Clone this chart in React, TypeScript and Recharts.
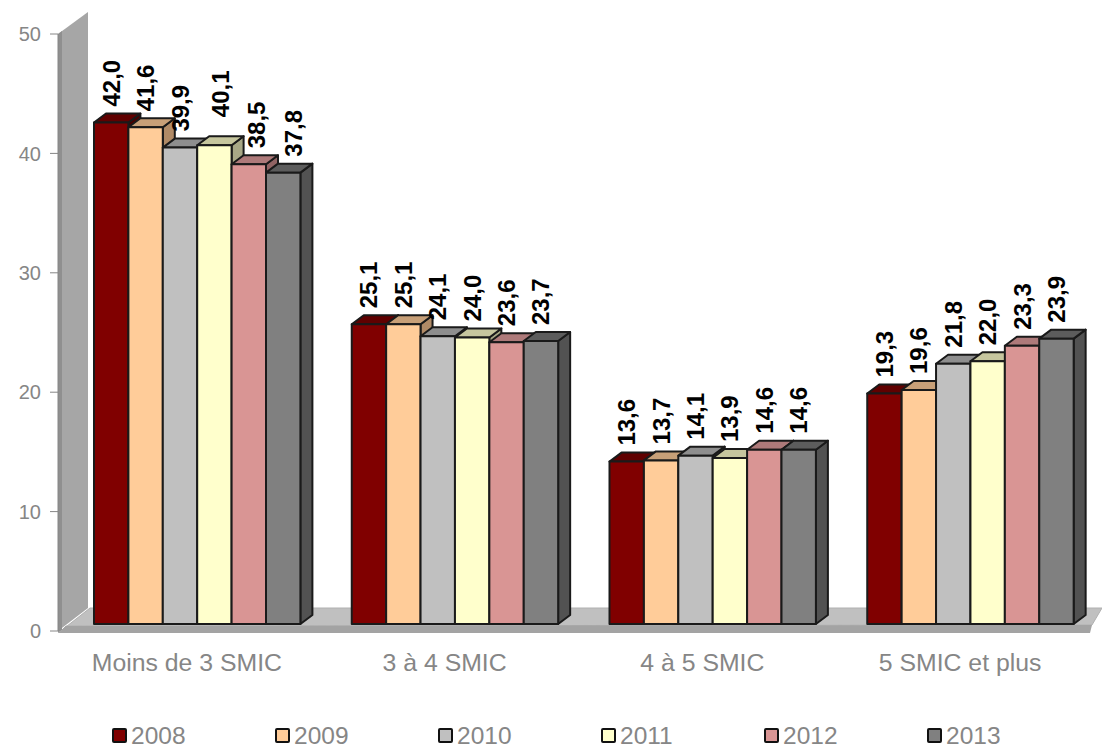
import React from 'react';
import { BarChart, Bar, XAxis, YAxis, Legend, LabelList } from 'recharts';

const CATEGORIES = ['Moins de 3 SMIC', '3 à 4 SMIC', '4 à 5 SMIC', '5 SMIC et plus'];
const YEARS = ['2008', '2009', '2010', '2011', '2012', '2013'];
const VALUES_2008 = [42.0, 25.1, 13.6, 19.3];
const VALUES_2009 = [41.6, 25.1, 13.7, 19.6];
const VALUES_2010 = [39.9, 24.1, 14.1, 21.8];
const VALUES_2011 = [40.1, 24.0, 13.9, 22.0];
const VALUES_2012 = [38.5, 23.6, 14.6, 23.3];
const VALUES_2013 = [37.8, 23.7, 14.6, 23.9];
const SERIES = [VALUES_2008, VALUES_2009, VALUES_2010, VALUES_2011, VALUES_2012, VALUES_2013];

const FRONT = ['#800000', '#ffcc99', '#c0c0c0', '#ffffcc', '#d99594', '#808080'];
const TOP = ['#600000', '#c8a078', '#8e8e8e', '#c6c69e', '#ae7a7a', '#5c5c5c'];
const SIDE = ['#4a0000', '#b08a66', '#7a7a7a', '#a8a886', '#916464', '#525252'];

// hand-placed labels of the first group, one entry per year
const FIRST_GROUP_NUDGE = [0, 0, 0, 6, 8, 10];
const FIRST_GROUP_LIFT = [16, 16, 16, 28, 16, 16];

const rows = CATEGORIES.map((name, i) => {
  const row: Record<string, string | number> = { name };
  YEARS.forEach((y, s) => { row[y] = SERIES[s][i]; });
  return row;
});

// bars stand in the middle of the floor, so they sit off the axis plane
const SHIFT_X = 10;
const SHIFT_Y = -7;
const DEPTH_X = 12;
const DEPTH_Y = 9;
const EDGE = '#1a1a1a';
const FONT = 'Liberation Sans, Arial, sans-serif';
const TEXT_GREY = '#868686';

const box3d = (s: number) => (props: any) => {
  const { x, y, width, height } = props;
  const l = x + SHIFT_X;
  const r = l + width;
  const t = y + SHIFT_Y;
  const b = t + height;
  return (
    <g stroke={EDGE} strokeWidth={2} strokeLinejoin="round">
      <polygon points={`${r},${t} ${r + DEPTH_X},${t - DEPTH_Y} ${r + DEPTH_X},${b - DEPTH_Y} ${r},${b}`} fill={SIDE[s]} />
      <polygon points={`${l},${t} ${l + DEPTH_X},${t - DEPTH_Y} ${r + DEPTH_X},${t - DEPTH_Y} ${r},${t}`} fill={TOP[s]} />
      <rect x={l} y={t} width={width} height={height} fill={FRONT[s]} />
    </g>
  );
};

const valueLabel = (s: number) => (props: any) => {
  const { x, y, width, value, index } = props;
  const nudge = index === 0 ? FIRST_GROUP_NUDGE[s] : 0;
  const lift = index === 0 ? FIRST_GROUP_LIFT[s] : 16;
  const cx = x + SHIFT_X + width / 2 + nudge;
  const bottom = y + SHIFT_Y - lift;
  return (
    <text
      transform={`translate(${cx},${bottom}) rotate(-90)`}
      textAnchor="start"
      dominantBaseline="central"
      fontFamily={FONT}
      fontSize={24}
      fontWeight="bold"
      fill="#000"
    >
      {value.toFixed(1).replace('.', ',')}
    </text>
  );
};

const YearLegend = () => (
  <div style={{ height: 0, position: 'relative' }}>
    {YEARS.map((y, s) => (
      <div key={y} style={{ position: 'absolute', left: 112 + s * 163, top: 0 }}>
        <span
          style={{
            position: 'absolute',
            left: 0,
            top: 0,
            width: 11,
            height: 11,
            background: FRONT[s],
            border: '2px solid #111',
            borderRadius: 2,
          }}
        />
        <span
          style={{
            position: 'absolute',
            left: 19,
            top: -1,
            fontFamily: FONT,
            fontSize: 24.5,
            lineHeight: '18px',
            color: TEXT_GREY,
          }}
        >
          {y}
        </span>
      </div>
    ))}
  </div>
);

const App = () => (
  <div style={{ position: 'absolute', left: 0, top: 0, width: 1102, height: 745, overflow: 'hidden', background: '#fff' }}>
    <BarChart
      width={1102}
      height={745}
      data={rows}
      margin={{ top: 34, right: 13, bottom: 74, left: 0 }}
      barSize={34.4}
      barGap={0}
    >
      {/* side wall and floor of the 3D box */}
      <polygon points="58,34 88,12 88,608 58,631" fill="#a6a6a6" />
      <polygon points="58,34 62,31 62,630 58,633" fill="#8f8f8f" />
      <polygon points="62,630 90,608 1102,608 1092,625 66,626" fill="#c0c0c0" stroke="#b0b0b0" />
      <polygon points="58,633 66,626 1092,625 1090,633" fill="#a3a3a3" />
      <XAxis
        dataKey="name"
        height={40}
        axisLine={false}
        tickLine={false}
        tickMargin={16}
        interval={0}
        tick={{ fill: TEXT_GREY, fontSize: 24.8, fontFamily: FONT }}
      />
      <YAxis
        width={58}
        domain={[0, 50]}
        ticks={[0, 10, 20, 30, 40, 50]}
        axisLine={{ stroke: '#868686' }}
        tickLine={{ stroke: '#868686' }}
        tickSize={8}
        tickMargin={9}
        tick={{ fill: TEXT_GREY, fontSize: 20, fontFamily: FONT }}
      />
      <Legend verticalAlign="bottom" wrapperStyle={{ left: 0, bottom: 17, width: 1102 }} content={YearLegend} />
      {YEARS.map((y, s) => (
        <Bar key={y} dataKey={y} isAnimationActive={false} shape={box3d(s)}>
          <LabelList dataKey={y} content={valueLabel(s)} />
        </Bar>
      ))}
    </BarChart>
  </div>
);

export default App;
